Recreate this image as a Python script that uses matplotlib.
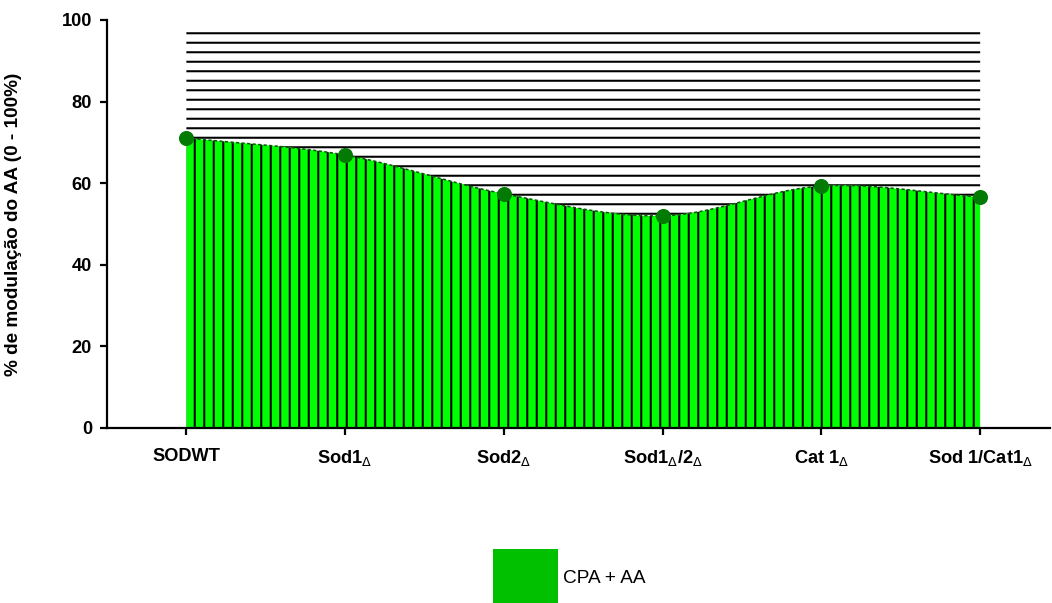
import matplotlib
matplotlib.use("Agg")
import matplotlib.pyplot as plt
import numpy as np
from matplotlib.patches import Patch

plt.rcParams["font.family"] = ["Liberation Sans", "DejaVu Sans"]
plt.rcParams["hatch.linewidth"] = 1.3
plt.rcParams["mathtext.fontset"] = "custom"
plt.rcParams["mathtext.rm"] = "DejaVu Sans"

# ---------------------------------------------------------------------------
# データ
# ---------------------------------------------------------------------------
categories = [
    "SODWT",
    r"Sod1$_{\Delta}$",
    r"Sod2$_{\Delta}$",
    r"Sod1$_{\Delta}$/2$_{\Delta}$",
    r"Cat 1$_{\Delta}$",
    r"Sod 1/Cat1$_{\Delta}$",
]
values = [71.1, 66.9, 57.4, 52.0, 59.3, 56.6]
series_label = "CPA + AA"
y_ticks = [0, 20, 40, 60, 80, 100]


def smooth(xs, ys, n=400):
    # エルミート補間で描画用の滑らかな線を作る
    xs = np.asarray(xs, float)
    ys = np.asarray(ys, float)
    m = np.gradient(ys, xs)
    xd = np.linspace(xs[0], xs[-1], n)
    idx = np.clip(np.searchsorted(xs, xd, side="right") - 1, 0, len(xs) - 2)
    h = xs[idx + 1] - xs[idx]
    t = (xd - xs[idx]) / h
    h00 = 2 * t**3 - 3 * t**2 + 1
    h10 = t**3 - 2 * t**2 + t
    h01 = -2 * t**3 + 3 * t**2
    h11 = t**3 - t**2
    yd = h00 * ys[idx] + h10 * h * m[idx] + h01 * ys[idx + 1] + h11 * h * m[idx + 1]
    return xd, yd


DPI = 114
fig = plt.figure(figsize=(1052 / DPI, 603 / DPI), dpi=DPI)
ax = fig.add_axes([107 / 1052, 175 / 603, 943 / 1052, 408 / 603])

x = np.arange(len(categories))
xd, yd = smooth(x, values)

# 曲線の上側（横線ハッチ）
ax.fill_between(xd, yd, 98.5, facecolor="white", edgecolor="black",
                hatch="--", linewidth=0)
# 曲線の下側（緑 + 縦線ハッチ）
ax.fill_between(xd, 0, yd, facecolor="#00FF00", edgecolor="black",
                hatch="||", linewidth=0)
ax.plot(xd, yd, color="#0A5A0A", linewidth=1, linestyle=(0, (2, 1.5)))
ax.plot(x, values, "o", color="#037A03", markersize=8.5, zorder=5, clip_on=False)

ax.set_xlim(-0.5, 5.44)
ax.set_ylim(0, 100)
ax.set_yticks(y_ticks)
ax.set_xticks(x)
ax.set_xticklabels(categories, fontsize=11.5, fontweight="bold")
for lbl in ax.get_yticklabels():
    lbl.set_fontsize(11.5)
    lbl.set_fontweight("bold")

for side in ("top", "right"):
    ax.spines[side].set_visible(False)
for side in ("left", "bottom"):
    ax.spines[side].set_linewidth(1.4)
ax.tick_params(axis="both", direction="out", length=4.5, width=1.4)
ax.tick_params(axis="x", pad=8)
ax.tick_params(axis="y", pad=5)

ax.set_ylabel("% de modulação do AA (0 - 100%)", fontsize=12, fontweight="bold")
ax.yaxis.set_label_coords(-(107 - 22) / 943, 0.5)

handle = Patch(facecolor="#00C000", edgecolor="none")
fig.legend([handle], [series_label], loc="center left",
           bbox_to_anchor=(493 / 1052, 1 - 578 / 603), frameon=False,
           fontsize=12, handlelength=3.4, handleheight=4.4,
           handletextpad=0.3, borderpad=0, borderaxespad=0)

fig.savefig("out.png", dpi=DPI)
